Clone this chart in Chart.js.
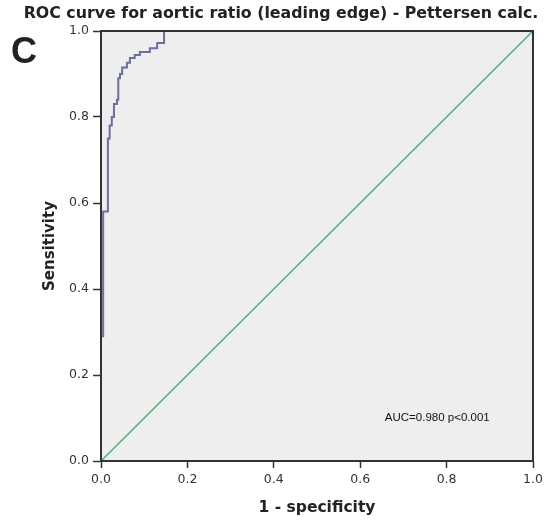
<!DOCTYPE html>
<html>
<head>
<meta charset="utf-8">
<script src="https://cdn.jsdelivr.net/npm/chart.js@4/dist/chart.umd.min.js"></script>
<style>
  html, body { margin: 0; padding: 0; background: #fff; }
  #wrap { width: 548px; height: 521px; position: relative; }
</style>
</head>
<body>
<div id="wrap"><canvas id="rocChart"></canvas></div>
<script>
// ROC curve points (1 - specificity, sensitivity)
const fpr = [0, 0, 0.005, 0.005, 0.016, 0.016, 0.02, 0.02, 0.025, 0.025, 0.03, 0.03, 0.037, 0.037,
             0.04, 0.04, 0.044, 0.044, 0.049, 0.049, 0.06, 0.06, 0.067, 0.067, 0.078, 0.078,
             0.09, 0.09, 0.113, 0.113, 0.13, 0.13, 0.146, 0.146, 1];
const tpr = [0, 0.29, 0.29, 0.58, 0.58, 0.75, 0.75, 0.78, 0.78, 0.80, 0.80, 0.83, 0.83, 0.84,
             0.84, 0.89, 0.89, 0.90, 0.90, 0.915, 0.915, 0.926, 0.926, 0.937, 0.937, 0.944,
             0.944, 0.951, 0.951, 0.96, 0.96, 0.972, 0.972, 1.0, 1.0];
const refX = [0, 1];
const refY = [0, 1];
const tickValues = [0, 0.2, 0.4, 0.6, 0.8, 1.0];
const titleText = 'ROC curve for aortic ratio (leading edge) - Pettersen calc.';
const panelLetter = 'C';
const aucText = 'AUC=0.980 p<0.001';

const font = 'DejaVu Sans';

const decor = {
  id: 'decor',
  beforeDraw(chart) {
    const { ctx, chartArea: a } = chart;
    ctx.save();
    ctx.fillStyle = '#eeeeee';
    ctx.fillRect(a.left, a.top, a.right - a.left, a.bottom - a.top);
    ctx.restore();
  },
  afterDraw(chart) {
    const { ctx, chartArea: a, scales } = chart;
    ctx.save();
    ctx.strokeStyle = '#333';
    ctx.lineWidth = 2;
    ctx.strokeRect(a.left, a.top, a.right - a.left, a.bottom - a.top);

    ctx.fillStyle = '#222';
    ctx.textAlign = 'center';
    ctx.textBaseline = 'middle';
    ctx.font = 'bold 15.8px "' + font + '"';
    ctx.fillText(titleText, 281, 14);

    ctx.textAlign = 'left';
    ctx.font = 'bold 36px "Liberation Sans"';
    ctx.fillText(panelLetter, 11, 53);

    ctx.font = '11.5px "Liberation Sans"';
    ctx.fillStyle = '#111';
    ctx.fillText(aucText, scales.x.getPixelForValue(0.657), scales.y.getPixelForValue(0.101));
    ctx.restore();
  }
};

new Chart(document.getElementById('rocChart'), {
  type: 'scatter',
  data: {
    datasets: [
      {
        label: 'ROC',
        data: fpr.map((v, i) => ({ x: v, y: tpr[i] })),
        showLine: true,
        borderColor: '#6b6f9e',
        borderWidth: 2,
        pointRadius: 0,
        fill: false
      },
      {
        label: 'Reference',
        data: refX.map((v, i) => ({ x: v, y: refY[i] })),
        showLine: true,
        borderColor: '#4fae7a',
        borderWidth: 1.5,
        pointRadius: 0,
        fill: false
      }
    ]
  },
  options: {
    responsive: true,
    maintainAspectRatio: false,
    animation: false,
    layout: { padding: { left: 0, right: 15, top: 31, bottom: 0 } },
    plugins: {
      legend: { display: false },
      tooltip: { enabled: false }
    },
    scales: {
      x: {
        type: 'linear',
        min: 0,
        max: 1,
        afterBuildTicks: s => { s.ticks = tickValues.map(v => ({ value: v })); },
        afterFit: s => { s.height = 60; },
        ticks: {
          color: '#333',
          font: { family: font, size: 12.5 },
          padding: 4,
          maxRotation: 0,
          callback: v => v.toFixed(1)
        },
        grid: { drawOnChartArea: false, tickLength: 7, tickColor: '#333', tickWidth: 1.5 },
        border: { color: '#333', width: 2 },
        title: {
          display: true,
          text: '1 - specificity',
          color: '#222',
          font: { family: font, size: 15.5, weight: 'bold' },
          padding: { top: 0 }
        }
      },
      y: {
        type: 'linear',
        min: 0,
        max: 1,
        afterBuildTicks: s => { s.ticks = tickValues.map(v => ({ value: v })); },
        afterFit: s => { s.width = 101; },
        ticks: {
          color: '#333',
          font: { family: font, size: 12.5 },
          padding: 4,
          callback: v => v.toFixed(1)
        },
        grid: { drawOnChartArea: false, tickLength: 8, tickColor: '#333', tickWidth: 1.5 },
        border: { color: '#333', width: 2 },
        title: {
          display: true,
          text: 'Sensitivity',
          color: '#222',
          font: { family: font, size: 15, weight: 'bold' },
          padding: { top: 41 }
        }
      }
    }
  },
  plugins: [decor]
});
</script>
</body>
</html>
